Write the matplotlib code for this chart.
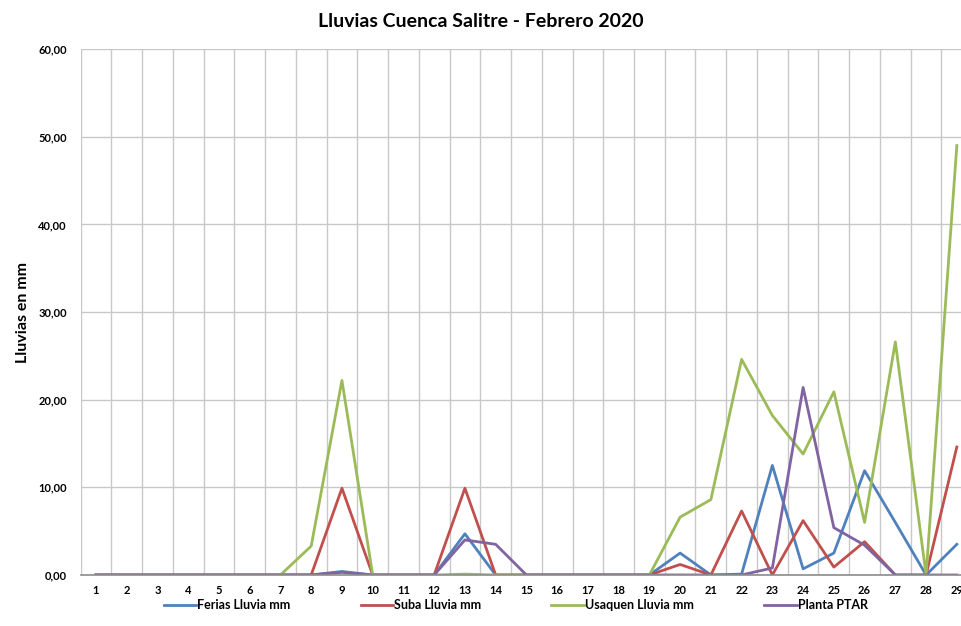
import numpy as np
import matplotlib
matplotlib.use("Agg")
import matplotlib.pyplot as plt
from matplotlib.ticker import FuncFormatter

plt.rcParams["font.family"] = ["Lato", "DejaVu Sans"]

dias = list(range(1, 30))
ferias = [0, 0, 0, 0, 0, 0, 0, 0, 0.4, 0, 0, 0, 4.7, 0, 0, 0, 0, 0, 0,
          2.5, 0, 0.1, 12.5, 0.7, 2.5, 11.9, 6.0, 0, 3.5]
suba = [0, 0, 0, 0, 0, 0, 0, 0, 9.9, 0, 0, 0, 9.9, 0, 0, 0, 0, 0, 0,
        1.2, 0, 7.3, 0, 6.2, 0.9, 3.8, 0, 0, 14.6]
usaquen = [0, 0, 0, 0, 0, 0, 0, 3.3, 22.2, 0, 0, 0, 0.1, 0, 0, 0, 0, 0, 0,
           6.6, 8.6, 24.6, 18.2, 13.8, 20.9, 6.0, 26.6, 0, 49.0]
planta = [0, 0, 0, 0, 0, 0, 0, 0, 0.3, 0, 0, 0, 4.0, 3.5, 0, 0, 0, 0, 0,
          0, 0, 0, 0.8, 21.4, 5.4, 3.4, 0, 0, 0]

series = [
    ("Ferias Lluvia mm", ferias, "#4F81BD"),
    ("Suba Lluvia mm", suba, "#C0504D"),
    ("Usaquen Lluvia mm", usaquen, "#9BBB59"),
    ("Planta PTAR", planta, "#8064A2"),
]

fig = plt.figure(figsize=(9.62, 6.26), dpi=100)
ax = fig.add_axes([0.0838, 0.0815, 0.9268, 0.840])

for name, vals, col in series:
    ax.plot(dias, vals, color=col, lw=2.0, label=name)

ax.set_xlim(0.5, 29.5)
ax.set_ylim(0, 60)
ax.set_yticks(np.arange(0, 61, 10))
ax.yaxis.set_major_formatter(FuncFormatter(lambda v, p: f"{v:.2f}".replace(".", ",")))
ax.set_xticks(dias)
ax.set_xticks(np.arange(0.5, 30, 1), minor=True)
ax.tick_params(axis="x", which="major", length=0, pad=7)
ax.tick_params(axis="x", which="minor", length=0)
ax.tick_params(axis="y", length=0, pad=10)
for lab in ax.get_xticklabels() + ax.get_yticklabels():
    lab.set_fontsize(8)
    lab.set_fontweight("bold")

ax.grid(True, axis="y", which="major", color="#c8c8c8", lw=1.0)
ax.grid(True, axis="x", which="minor", color="#c8c8c8", lw=1.0)
ax.set_axisbelow(True)
for s in ["top", "right", "left"]:
    ax.spines[s].set_visible(False)
ax.spines["bottom"].set_color("#8c8c8c")
ax.spines["bottom"].set_linewidth(1.2)

ax.set_ylabel("Lluvias en mm", fontsize=11.5, fontweight="bold", labelpad=6)
fig.text(0.5, 0.965, "Lluvias Cuenca Salitre - Febrero 2020",
         ha="center", va="center", fontsize=14, fontweight="bold")

fig.legend(loc="center", bbox_to_anchor=(0.536, 0.033), ncol=4, frameon=False,
           handlelength=2.6, handletextpad=0.1, columnspacing=5.6,
           prop={"weight": "bold", "size": 9})

fig.savefig("out.png", dpi=100)
